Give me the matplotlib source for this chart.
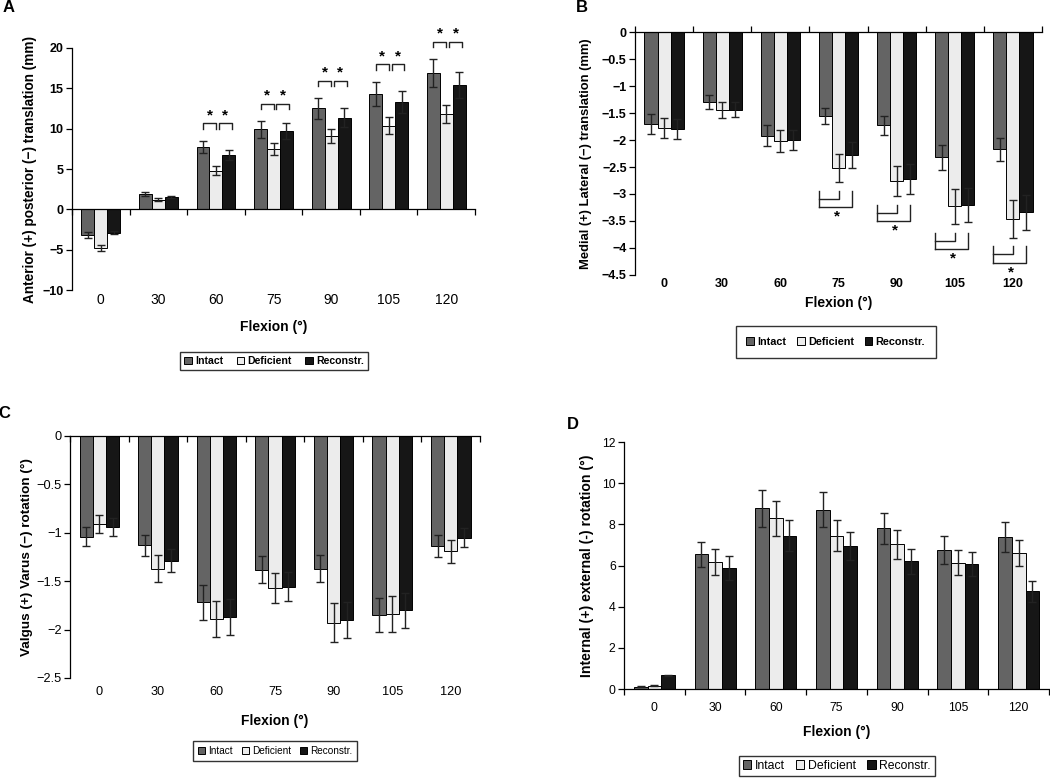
import numpy as np
import matplotlib
matplotlib.use('Agg')
import matplotlib.pyplot as plt
from matplotlib.patches import Patch
from matplotlib.ticker import FuncFormatter

plt.rcParams['font.family'] = ['Liberation Sans', 'DejaVu Sans']

flexion = ['0', '30', '60', '75', '90', '105', '120']
groups = ['Intact', 'Deficient', 'Reconstr.']
colors = ['#646464', '#ececec', '#161616']

# A: anterior/posterior translation (mm)
a_int = [-3.2, 1.9, 7.7, 9.9, 12.5, 14.3, 16.9]
a_int_err = [0.4, 0.2, 0.75, 1.0, 1.25, 1.5, 1.7]
a_def = [-4.8, 1.2, 4.8, 7.45, 9.1, 10.35, 11.8]
a_def_err = [0.4, 0.2, 0.6, 0.75, 0.9, 1.05, 1.15]
a_rec = [-2.9, 1.5, 6.7, 9.7, 11.35, 13.3, 15.45]
a_rec_err = [0.2, 0.1, 0.6, 0.95, 1.15, 1.35, 1.6]
a_sig = [2, 3, 4, 5, 6]

# B: medial/lateral translation (mm)
b_int = [-1.70, -1.30, -1.92, -1.56, -1.73, -2.32, -2.17]
b_int_err = [0.18, 0.13, 0.20, 0.15, 0.18, 0.23, 0.21]
b_def = [-1.78, -1.45, -2.02, -2.52, -2.76, -3.23, -3.46]
b_def_err = [0.18, 0.15, 0.21, 0.26, 0.28, 0.33, 0.35]
b_rec = [-1.80, -1.44, -2.00, -2.28, -2.72, -3.20, -3.34]
b_rec_err = [0.19, 0.14, 0.19, 0.24, 0.28, 0.31, 0.32]
b_sig = [3, 4, 5, 6]

# C: valgus/varus rotation (deg)
c_int = [-1.04, -1.13, -1.72, -1.38, -1.37, -1.85, -1.14]
c_int_err = [0.10, 0.11, 0.18, 0.14, 0.135, 0.18, 0.115]
c_def = [-0.91, -1.37, -1.89, -1.57, -1.93, -1.84, -1.19]
c_def_err = [0.09, 0.14, 0.19, 0.155, 0.20, 0.185, 0.12]
c_rec = [-0.94, -1.29, -1.87, -1.56, -1.90, -1.80, -1.05]
c_rec_err = [0.09, 0.12, 0.19, 0.15, 0.185, 0.18, 0.095]

# D: internal/external rotation (deg)
d_int = [0.12, 6.54, 8.77, 8.72, 7.81, 6.74, 7.39]
d_int_err = [0.02, 0.61, 0.88, 0.85, 0.76, 0.67, 0.72]
d_def = [0.17, 6.18, 8.30, 7.45, 7.03, 6.14, 6.62]
d_def_err = [0.02, 0.62, 0.85, 0.75, 0.71, 0.62, 0.63]
d_rec = [0.66, 5.89, 7.45, 6.96, 6.20, 6.09, 4.74]
d_rec_err = [0.03, 0.58, 0.76, 0.67, 0.60, 0.58, 0.49]

x = np.arange(len(flexion))
w = 0.225
bounds = np.arange(-0.5, len(flexion), 1.0)


def fmt(v, pos):
    return ('%g' % v).replace('-', '\u2212')


def draw_bars(ax, series, errs):
    for k, (vals, err) in enumerate(zip(series, errs)):
        ax.bar(x + (k - 1) * w, vals, w, color=colors[k], edgecolor='black',
               linewidth=0.7, zorder=2)
        ax.errorbar(x + (k - 1) * w, vals, yerr=err, fmt='none', ecolor='#222222',
                    elinewidth=1.0, capsize=3, capthick=1.0, zorder=3)


def style_axes(ax, axis_at_top, tick_dir, bold, size, pad):
    weight = 'bold' if bold else 'normal'
    ax.set_xlim(-0.5, len(flexion) - 0.5)
    ax.spines['right'].set_visible(False)
    ax.set_xticks(x)
    ax.set_xticklabels(flexion, fontsize=size, fontweight=weight)
    ax.set_xticks(bounds, minor=True)
    ax.yaxis.set_major_formatter(FuncFormatter(fmt))
    for lab in ax.get_yticklabels():
        lab.set_fontweight(weight)
        lab.set_fontsize(size)
    ax.tick_params(axis='y', direction='out', length=4, width=0.9, pad=2)
    ax.tick_params(axis='x', which='major', length=0, pad=pad, top=False, bottom=True)
    if axis_at_top:
        ax.spines['bottom'].set_visible(False)
        ax.tick_params(axis='x', which='minor', top=True, bottom=False,
                       direction=tick_dir, length=4, width=0.9)
    else:
        ax.spines['top'].set_visible(False)
        ax.tick_params(axis='x', which='minor', top=False, bottom=True,
                       direction=tick_dir, length=4, width=0.9)
    for s in ax.spines.values():
        s.set_linewidth(0.9)


def add_legend(fig, cx, cy, bold, size, pad, colsp):
    handles = [Patch(facecolor=c, edgecolor='black', linewidth=0.7) for c in colors]
    leg = fig.legend(handles, groups, loc='center', bbox_to_anchor=(cx, cy), ncol=3,
                     frameon=True, fancybox=False, edgecolor='black',
                     handlelength=0.7, handleheight=0.7, handletextpad=0.3,
                     columnspacing=colsp, borderpad=pad,
                     prop={'size': size, 'weight': 'bold' if bold else 'normal'})
    leg.get_frame().set_linewidth(1.0)


fig = plt.figure(figsize=(10.5, 7.79), dpi=100)

# ---- A
axA = fig.add_axes([0.0686, 0.6277, 0.3838, 0.3107])
draw_bars(axA, [a_int, a_def, a_rec], [a_int_err, a_def_err, a_rec_err])
axA.set_ylim(-10, 20)
axA.set_yticks([-10, -5, 0, 5, 10, 15, 20])
style_axes(axA, True, 'in', True, 9, 2)
axA.spines['top'].set_position(('data', 0))
axA.set_ylabel('Anterior (+) posterior (\u2212) translation (mm)', fontsize=9.8,
               fontweight='bold')
axA.yaxis.set_label_coords(-0.087, 0.5)
axA.set_xlabel('Flexion (\u00b0)', fontsize=10, fontweight='bold')
axA.xaxis.set_label_coords(0.5, -0.125)
for i in a_sig:
    top = max(a_int[i] + a_int_err[i], a_def[i] + a_def_err[i], a_rec[i] + a_rec_err[i]) + 2.2
    for x0, x1 in [(x[i] - w, x[i]), (x[i] + 0.05, x[i] + w + 0.05)]:
        axA.plot([x0, x0, x1, x1], [top - 0.7, top, top, top - 0.7], color='#222222',
                 linewidth=1.0, zorder=3, clip_on=False)
        axA.text((x0 + x1) / 2, top + 0.1, '*', ha='center', va='bottom',
                 fontsize=11, fontweight='bold')

# ---- B
axB = fig.add_axes([0.6048, 0.6470, 0.3876, 0.3119])
draw_bars(axB, [b_int, b_def, b_rec], [b_int_err, b_def_err, b_rec_err])
axB.set_ylim(-4.5, 0)
axB.set_yticks(np.arange(-4.5, 0.01, 0.5))
style_axes(axB, True, 'out', True, 9, 2)
axB.set_ylabel('Medial (+) Lateral (\u2212) translation (mm)', fontsize=9.4,
               fontweight='bold')
axB.yaxis.set_label_coords(-0.106, 0.5)
axB.set_xlabel('Flexion (\u00b0)', fontsize=10, fontweight='bold')
axB.xaxis.set_label_coords(0.5, -0.088)
for i in b_sig:
    top = min(b_int[i] - b_int_err[i], b_def[i] - b_def_err[i], b_rec[i] - b_rec_err[i]) - 0.16
    left = x[i] - 1.5 * w
    axB.plot([left, left], [top, top - 0.3], color='#222222', linewidth=1.0)
    axB.plot([left, x[i], x[i]], [top - 0.15, top - 0.15, top], color='#222222', linewidth=1.0)
    axB.plot([left, x[i] + w, x[i] + w], [top - 0.3, top - 0.3, top], color='#222222',
             linewidth=1.0)
    axB.text(x[i] - 0.03, top - 0.48, '*', ha='center', va='center', fontsize=11,
             fontweight='bold', clip_on=False)

# ---- C
axC = fig.add_axes([0.0667, 0.1297, 0.3905, 0.3107])
draw_bars(axC, [c_int, c_def, c_rec], [c_int_err, c_def_err, c_rec_err])
axC.set_ylim(-2.5, 0)
axC.set_yticks(np.arange(-2.5, 0.01, 0.5))
style_axes(axC, True, 'in', False, 9.2, 6)
axC.set_ylabel('Valgus (+) Varus (\u2212) rotation (\u00b0)', fontsize=9.7,
               fontweight='bold')
axC.yaxis.set_label_coords(-0.090, 0.5)
axC.set_xlabel('Flexion (\u00b0)', fontsize=10, fontweight='bold')
axC.xaxis.set_label_coords(0.5, -0.147)

# ---- D
axD = fig.add_axes([0.5943, 0.1155, 0.4048, 0.3171])
draw_bars(axD, [d_int, d_def, d_rec], [d_int_err, d_def_err, d_rec_err])
axD.set_ylim(0, 12)
axD.set_yticks(np.arange(0, 12.1, 2))
style_axes(axD, False, 'out', False, 8.8, 9)
axD.set_ylabel('Internal (+) external (-) rotation (\u00b0)', fontsize=10.1,
               fontweight='bold')
axD.yaxis.set_label_coords(-0.071, 0.5)
axD.set_xlabel('Flexion (\u00b0)', fontsize=10, fontweight='bold')
axD.xaxis.set_label_coords(0.5, -0.144)

# legends
add_legend(fig, 0.261, 0.5366, True, 7.6, 0.4, 1.3)
add_legend(fig, 0.796, 0.561, True, 7.8, 1.0, 1.0)
add_legend(fig, 0.262, 0.036, False, 7.2, 0.5, 0.9)
add_legend(fig, 0.797, 0.0167, False, 8.8, 0.3, 0.9)

# panel letters
for lab, px, py in [('A', 9, 8), ('B', 582, 8), ('C', 4, 414), ('D', 573, 424)]:
    fig.text(px / 1050, 1 - py / 779, lab, ha='center', va='center', fontsize=12,
             fontweight='bold')

fig.savefig('out.png', dpi=100)
